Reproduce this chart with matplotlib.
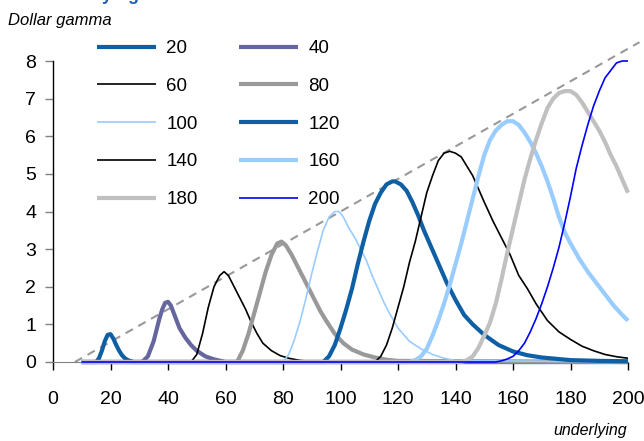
import matplotlib
matplotlib.use('Agg')
import matplotlib.pyplot as plt

plt.rcParams['font.family'] = ['Liberation Sans Narrow', 'Liberation Sans', 'DejaVu Sans']

# strikes and read-off dollar gamma curves (x = underlying, y = dollar gamma)
strikes = [20, 40, 60, 80, 100, 120, 140, 160, 180, 200]

x20 = [10, 15, 16, 17, 18, 19, 20, 21, 22, 23, 24, 25, 26, 28, 200]
y20 = [0, 0, 0.1, 0.3, 0.55, 0.72, 0.74, 0.62, 0.45, 0.3, 0.18, 0.1, 0.05, 0, 0]

x40 = [10, 31, 33, 35, 36, 37, 38, 39, 40, 41, 42, 43, 44, 46, 48, 50, 53, 56, 60, 200]
y40 = [0, 0, 0.15, 0.55, 0.85, 1.15, 1.4, 1.57, 1.6, 1.5, 1.3, 1.1, 0.9, 0.65, 0.45, 0.3, 0.15, 0.07, 0, 0]

x60 = [10, 48, 50, 52, 54, 56, 58, 59.5, 61, 63, 65, 67, 69, 71, 73, 76, 79, 82, 86, 89, 200]
y60 = [0, 0, 0.2, 0.75, 1.45, 2.0, 2.3, 2.4, 2.3, 2.0, 1.7, 1.4, 1.05, 0.75, 0.5, 0.3, 0.17, 0.1, 0.04, 0.02, 0]

x80 = [10, 64, 66, 68, 70, 72, 74, 76, 78, 79.5, 81, 83, 85, 87, 89, 91, 93, 95, 98,
       101, 104, 108, 112, 116, 120, 200]
y80 = [0, 0, 0.3, 0.75, 1.3, 1.85, 2.4, 2.85, 3.15, 3.2, 3.1, 2.85, 2.55, 2.25, 1.95, 1.65, 1.35, 1.1, 0.75,
       0.5, 0.33, 0.2, 0.12, 0.06, 0.03, 0]

x100 = [10, 80, 82, 84, 86, 88, 90, 92, 94, 96, 98, 99.5, 101, 103, 105, 107, 109, 111, 113,
        115, 117, 120, 124, 128, 132, 136, 140, 200]
y100 = [0, 0, 0.2, 0.6, 1.1, 1.7, 2.35, 2.95, 3.5, 3.85, 4.0, 4.0, 3.85, 3.55, 3.3, 3.0, 2.7, 2.3, 1.95,
        1.6, 1.3, 0.9, 0.55, 0.35, 0.2, 0.1, 0.04, 0]

x120 = [10, 94, 96, 98, 100, 102, 104, 106, 108, 110, 112, 114, 116, 118, 119, 121, 123, 125, 127,
        129, 131, 133, 135, 137, 140, 143, 146, 150, 155, 160, 165, 170, 180, 190, 200]
y120 = [0, 0, 0.15, 0.45, 0.9, 1.4, 1.95, 2.6, 3.2, 3.75, 4.2, 4.5, 4.72, 4.8, 4.8, 4.72, 4.55, 4.25, 3.9,
        3.5, 3.15, 2.8, 2.45, 2.1, 1.65, 1.25, 1.0, 0.72, 0.45, 0.28, 0.18, 0.12, 0.05, 0.03, 0.02]

x140 = [10, 112, 114, 116, 118, 120, 122, 124, 126, 128, 130, 132, 134, 136, 138, 140, 142, 144, 146,
        148, 150, 153, 156, 159, 162, 165, 168, 172, 176, 180, 184, 188, 192, 196, 200]
y140 = [0, 0, 0.15, 0.45, 0.9, 1.45, 2.0, 2.65, 3.2, 3.85, 4.5, 4.95, 5.35, 5.55, 5.6, 5.55, 5.45, 5.2, 4.95,
        4.6, 4.25, 3.75, 3.3, 2.85, 2.3, 1.95, 1.55, 1.1, 0.8, 0.6, 0.42, 0.3, 0.2, 0.14, 0.1]

x160 = [10, 124, 126, 128, 130, 132, 134, 136, 138, 140, 142, 144, 146, 148, 150, 152, 154, 156, 158,
        160, 162, 164, 166, 168, 170, 172, 174, 176, 178, 180, 183, 186, 189, 192, 195, 198, 200]
y160 = [0, 0, 0.05, 0.15, 0.35, 0.7, 1.1, 1.55, 2.05, 2.6, 3.15, 3.75, 4.35, 4.95, 5.5, 5.9, 6.15, 6.3, 6.4,
        6.4, 6.3, 6.1, 5.85, 5.55, 5.2, 4.8, 4.35, 3.85, 3.45, 3.15, 2.75, 2.4, 2.1, 1.8, 1.5, 1.25, 1.1]

x180 = [10, 142, 144, 146, 148, 150, 152, 154, 156, 158, 160, 162, 164, 166, 168, 170, 172, 174, 176,
        178, 180, 182, 184, 186, 188, 190, 192, 194, 196, 198, 200]
y180 = [0, 0, 0.05, 0.15, 0.38, 0.7, 1.05, 1.55, 2.2, 2.9, 3.55, 4.2, 4.85, 5.4, 5.9, 6.35, 6.75, 7.0, 7.15,
        7.2, 7.2, 7.1, 6.9, 6.65, 6.4, 6.15, 5.85, 5.5, 5.2, 4.85, 4.5]

x200 = [10, 150, 154, 156, 158, 160, 162, 164, 166, 168, 170, 172, 174, 176, 178, 180, 182, 184, 186,
        188, 190, 192, 194, 196, 198, 200]
y200 = [0, 0, 0, 0.03, 0.08, 0.15, 0.3, 0.5, 0.8, 1.15, 1.55, 2.0, 2.5, 3.05, 3.7, 4.4, 5.15, 5.75, 6.3,
        6.8, 7.2, 7.55, 7.75, 7.95, 8.0, 8.0]

# dashed envelope through the peaks
env_x = [7.6, 204]
env_y = [0, 8.5]

xs = [x20, x40, x60, x80, x100, x120, x140, x160, x180, x200]
ys = [y20, y40, y60, y80, y100, y120, y140, y160, y180, y200]

colors = ['#0F5FA5', '#66669E', '#000000', '#999999', '#99CCFF',
          '#0F5FA5', '#000000', '#99CCFF', '#C0C0C0', '#0000FF']
widths = [3.0, 3.0, 1.2, 3.0, 1.2, 3.0, 1.2, 3.0, 3.0, 1.2]

fig = plt.figure(figsize=(6.44, 4.41), dpi=100)
ax = fig.add_axes([53/644, 79/441, 575/644, 301/441])

ax.plot(env_x, env_y, color='#999999', lw=1.5, dashes=(4, 3), clip_on=False, zorder=1)

lines = []
for i in range(len(strikes)):
    l, = ax.plot(xs[i], ys[i], color=colors[i], lw=widths[i], label=str(strikes[i]),
                 clip_on=False, zorder=2 + i, solid_capstyle='butt')
    lines.append(l)

ax.set_xlim(0, 200)
ax.set_ylim(0, 8)
ax.set_xticks(range(0, 201, 20))
ax.set_yticks(range(0, 9))
ax.spines['top'].set_visible(False)
ax.spines['right'].set_visible(False)
ax.spines['left'].set_linewidth(1.0)
ax.spines['bottom'].set_color('#808080')
ax.tick_params(axis='y', direction='out', length=6, width=1, pad=6, labelsize=14, color='#808080')
ax.tick_params(axis='x', direction='out', length=6, width=1, pad=15, labelsize=14)

# legend reads row by row: 20 40 / 60 80 / ...
order = [0, 2, 4, 6, 8, 1, 3, 5, 7, 9]
leg = ax.legend([lines[i] for i in order], [str(strikes[i]) for i in order],
                ncol=2, frameon=False, loc='upper left',
                bbox_to_anchor=(97/644, 1 - 40/441), bbox_transform=fig.transFigure,
                fontsize=13.5, handlelength=3.15, handletextpad=0.55, labelspacing=1.1,
                columnspacing=2.2, borderpad=0, borderaxespad=0)

fig.text(8/644, 1 - 20/441, 'Dollar gamma', fontsize=12, style='italic', va='center', ha='left',
         family=['Liberation Sans', 'DejaVu Sans'])
fig.text(627/644, 1 - 430/441, 'underlying', fontsize=11.5, style='italic', va='center', ha='right',
         family=['Liberation Sans', 'DejaVu Sans'])
# title cut off by the top edge, only descenders show
fig.text(48/644, 1.0, 'underlying', fontsize=13, weight='bold', color='#1F63AE', va='baseline',
         ha='left', family=['Liberation Sans', 'DejaVu Sans'])

fig.savefig('out.png', dpi=100)
